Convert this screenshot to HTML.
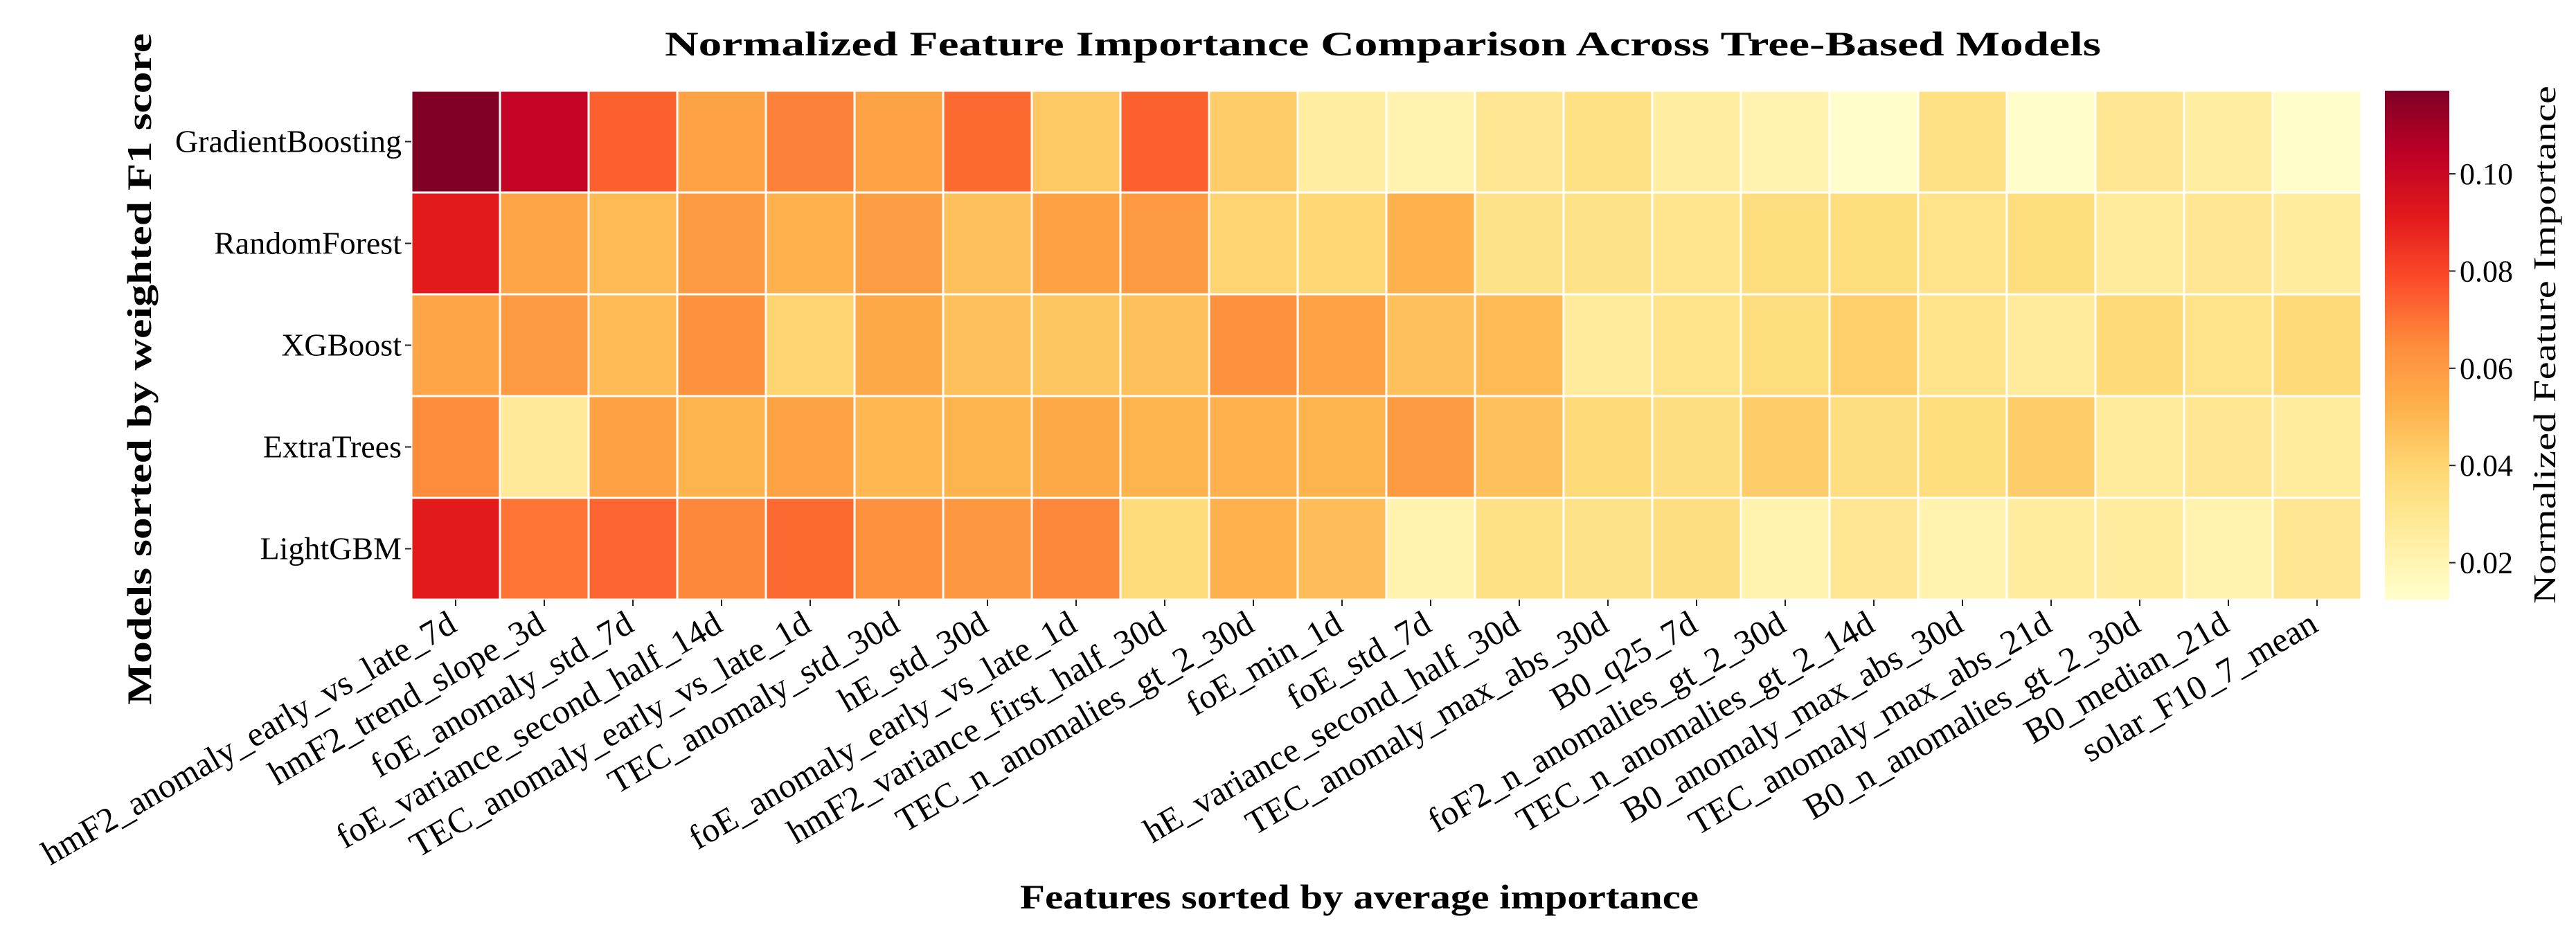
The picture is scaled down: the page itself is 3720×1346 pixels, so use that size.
<!DOCTYPE html>
<html><head><meta charset="utf-8"><style>
html,body{margin:0;padding:0;background:#fff;}
svg{display:block;font-family:"Liberation Serif",serif;}
</style></head><body>
<svg id="chart" width="3720" height="1346" viewBox="0 0 3720 1346" xmlns="http://www.w3.org/2000/svg">
<defs>
<linearGradient id="cbgrad" x1="0" y1="1" x2="0" y2="0">
<stop offset="0" stop-color="#ffffcc"/><stop offset="0.125" stop-color="#ffeda0"/><stop offset="0.25" stop-color="#fed976"/><stop offset="0.375" stop-color="#feb24c"/><stop offset="0.5" stop-color="#fd8d3c"/><stop offset="0.625" stop-color="#fc4e2a"/><stop offset="0.75" stop-color="#e31a1c"/><stop offset="0.875" stop-color="#bd0026"/><stop offset="1" stop-color="#800026"/>
</linearGradient>
</defs>
<text x="1997" y="80" text-anchor="middle" font-size="50" font-weight="bold" textLength="2074" lengthAdjust="spacingAndGlyphs">Normalized Feature Importance Comparison Across Tree-Based Models</text>
<g id="cells"></g>
<g id="yaxis"></g>
<g id="xaxis"></g>
<text transform="translate(218,533) rotate(-90)" text-anchor="middle" font-size="50" font-weight="bold" textLength="970" lengthAdjust="spacingAndGlyphs">Models sorted by weighted F1 score</text>
<text x="1963" y="1312" text-anchor="middle" font-size="50" font-weight="bold" textLength="980" lengthAdjust="spacingAndGlyphs">Features sorted by average importance</text>
<rect x="3444" y="131" width="93" height="735" fill="url(#cbgrad)"/>
<g id="cbticks"></g>
<text transform="translate(3690,498) rotate(-90)" text-anchor="middle" font-size="46" textLength="748" lengthAdjust="spacingAndGlyphs">Normalized Feature Importance</text>
</svg>
<script>
const models = ["GradientBoosting","RandomForest","XGBoost","ExtraTrees","LightGBM"];
const features = ["hmF2_anomaly_early_vs_late_7d","hmF2_trend_slope_3d","foE_anomaly_std_7d","foE_variance_second_half_14d","TEC_anomaly_early_vs_late_1d","TEC_anomaly_std_30d","hE_std_30d","foE_anomaly_early_vs_late_1d","hmF2_variance_first_half_30d","TEC_n_anomalies_gt_2_30d","foE_min_1d","foE_std_7d","hE_variance_second_half_30d","TEC_anomaly_max_abs_30d","B0_q25_7d","foF2_n_anomalies_gt_2_30d","TEC_n_anomalies_gt_2_14d","B0_anomaly_max_abs_30d","TEC_anomaly_max_abs_21d","B0_n_anomalies_gt_2_30d","B0_median_21d","solar_F10_7_mean"];
const valsGradientBoosting = [0.117,0.102,0.074,0.057,0.067,0.057,0.072,0.044,0.074,0.043,0.025,0.021,0.030,0.034,0.025,0.021,0.013,0.034,0.013,0.030,0.025,0.013];
const valsRandomForest = [0.091,0.056,0.049,0.060,0.052,0.059,0.047,0.058,0.060,0.040,0.039,0.052,0.033,0.033,0.031,0.036,0.036,0.032,0.036,0.027,0.030,0.026];
const valsXGBoost = [0.056,0.060,0.049,0.063,0.040,0.055,0.047,0.045,0.047,0.063,0.057,0.047,0.049,0.027,0.032,0.036,0.042,0.032,0.027,0.038,0.032,0.038];
const valsExtraTrees = [0.065,0.028,0.058,0.051,0.057,0.050,0.051,0.055,0.051,0.052,0.051,0.060,0.047,0.038,0.035,0.043,0.035,0.036,0.043,0.027,0.030,0.026];
const valsLightGBM = [0.091,0.070,0.073,0.066,0.072,0.063,0.061,0.066,0.037,0.052,0.048,0.021,0.034,0.033,0.035,0.021,0.030,0.021,0.026,0.026,0.021,0.030];
const cbTicks = [0.02,0.04,0.06,0.08,0.10];
const cbTickLabels = ["0.02","0.04","0.06","0.08","0.10"];
const vmin = 0.0124, vmax = 0.1171;

const series = [valsGradientBoosting,valsRandomForest,valsXGBoost,valsExtraTrees,valsLightGBM];
const NS="http://www.w3.org/2000/svg";
const X0=594, X1=3410, Y0=131, Y1=866;
const cw=(X1-X0)/features.length, ch=(Y1-Y0)/models.length;
const xPos=i=>X0+i*cw, yPos=j=>Y0+j*ch;
const cbY=v=>Y1-(v-vmin)/(vmax-vmin)*(Y1-Y0);
const stops=[[255,255,204],[255,237,160],[254,217,118],[254,178,76],[253,141,60],[252,78,42],[227,26,28],[189,0,38],[128,0,38]];
function color(v){let t=Math.max(0,Math.min(1,(v-vmin)/(vmax-vmin)))*8;let i=Math.min(7,Math.floor(t));let f=t-i;
const c=stops[i].map((a,k)=>Math.round(a+(stops[i+1][k]-a)*f));return `rgb(${c[0]},${c[1]},${c[2]})`;}
function mk(tag,attrs,parent,txt){const e=document.createElementNS(NS,tag);for(const k in attrs)e.setAttribute(k,attrs[k]);if(txt!==undefined)e.textContent=txt;parent.appendChild(e);return e;}
const cells=document.getElementById('cells');
series.forEach((row,j)=>row.forEach((v,i)=>{
 const r=mk('rect',{x:xPos(i),y:yPos(j),width:cw,height:ch,fill:color(v),stroke:'#fff','stroke-width':3},cells);
 
 
}));
const ya=document.getElementById('yaxis');
models.forEach((m,j)=>{
 const cy=yPos(j)+ch/2;
 const tk=mk('line',{x1:X0-9,x2:X0,y1:cy,y2:cy,stroke:'#222','stroke-width':2},ya);
 
 
 const t=mk('text',{x:X0-14,y:cy+15,'text-anchor':'end','font-size':46},ya,m);
 
 
});
const xa=document.getElementById('xaxis');
features.forEach((f,i)=>{
 const cx=xPos(i)+cw/2;
 const tk=mk('line',{x1:cx,x2:cx,y1:Y1,y2:Y1+9,stroke:'#222','stroke-width':2},xa);
 
 
 const t=mk('text',{transform:`translate(${cx+4},${Y1+44}) rotate(-30)`,'text-anchor':'end','font-size':50},xa,f);
 
 
});
const cb=document.getElementById('cbticks');
cbTicks.forEach((v,k)=>{
 const y=cbY(v);
 const tk=mk('line',{x1:3537,x2:3546,y1:y,y2:y,stroke:'#222','stroke-width':2},cb);
 
 
 const t=mk('text',{x:3552,y:y+15,'font-size':44},cb,cbTickLabels[k]);
 
 
});
</script>
</body></html>
